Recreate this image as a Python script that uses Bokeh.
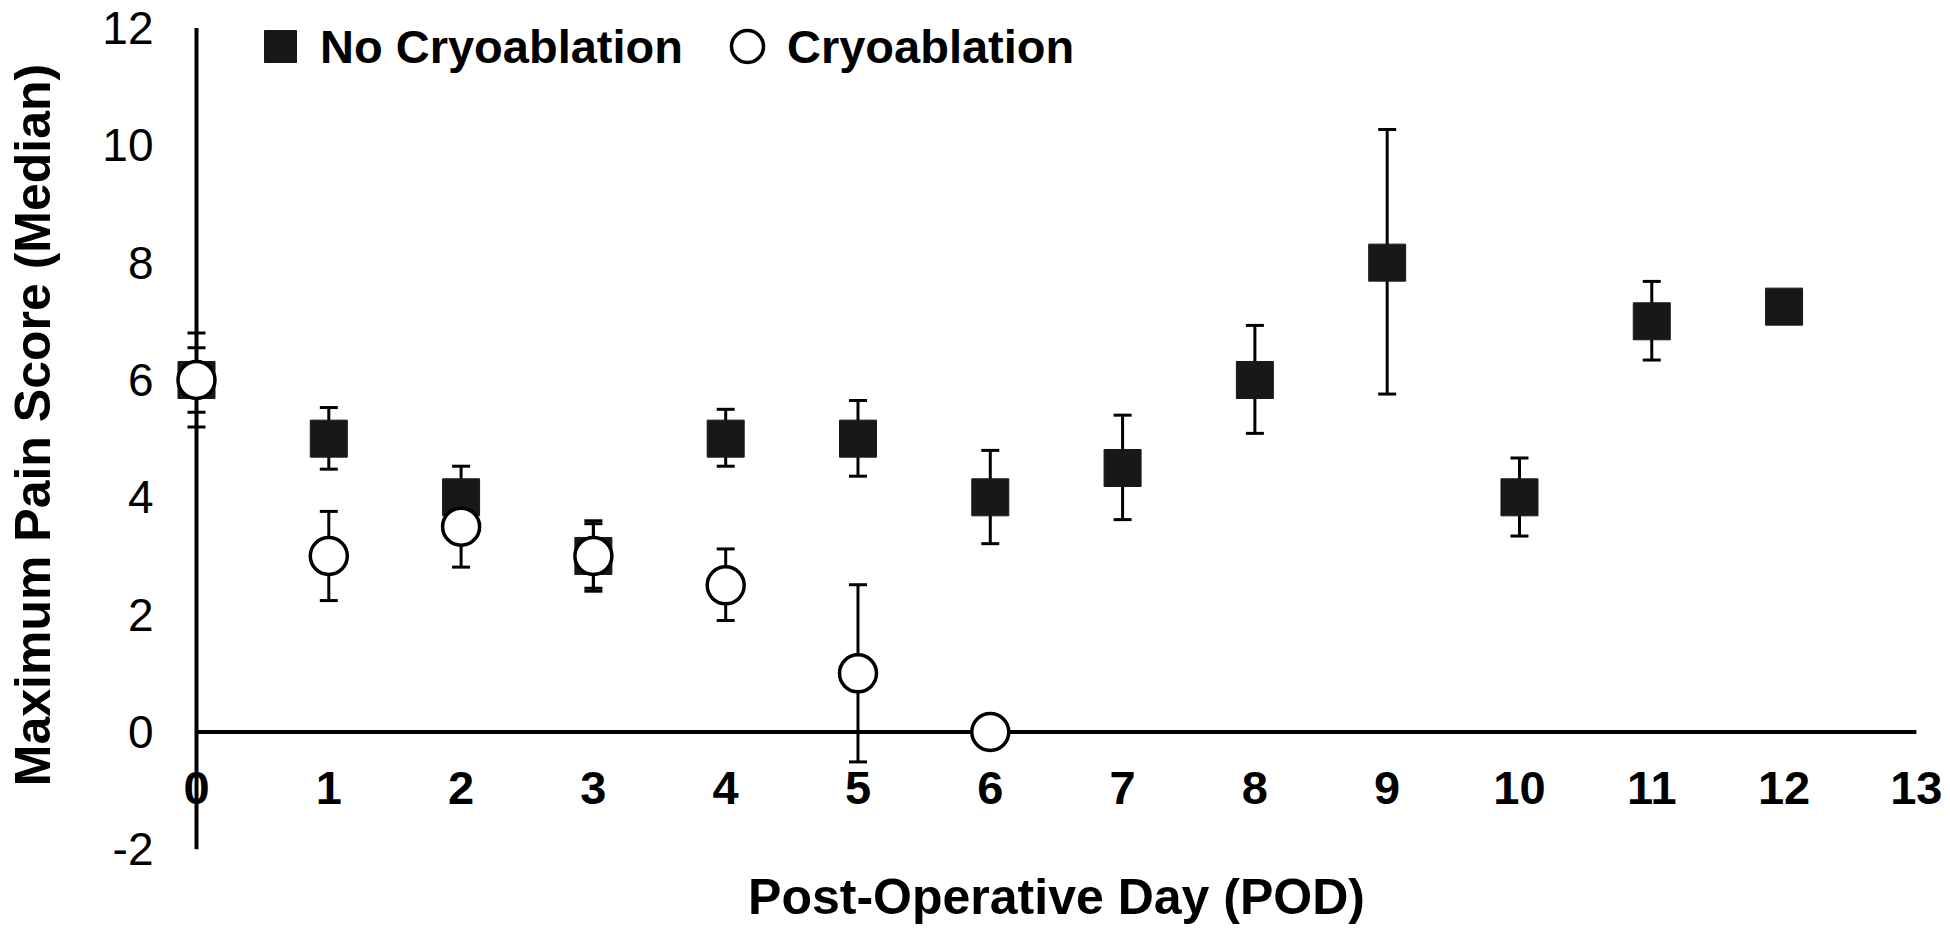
from bokeh.plotting import figure
from bokeh.models import (ColumnDataSource, Whisker, TeeHead, LinearAxis, FixedTicker,
                          Range1d, Legend, LegendItem)
from bokeh.embed import file_html
from bokeh.resources import INLINE

# ---- data ----
days_no = [0, 1, 2, 3, 4, 5, 6, 7, 8, 9, 10, 11, 12]
median_no = [6, 5, 4, 3, 5, 5, 4, 4.5, 6, 8, 4, 7, 7.25]
upper_no = [6.8, 5.53, 4.53, 3.6, 5.5, 5.65, 4.8, 5.4, 6.93, 10.27, 4.67, 7.68, None]
lower_no = [5.2, 4.48, 3.47, 2.4, 4.53, 4.36, 3.21, 3.62, 5.09, 5.76, 3.34, 6.34, None]

days_cryo = [0, 1, 2, 3, 4, 5, 6]
median_cryo = [6, 3, 3.5, 3, 2.5, 1, 0]
upper_cryo = [6.55, 3.76, 4.19, 3.55, 3.12, 2.51, None]
lower_cryo = [5.45, 2.24, 2.81, 2.45, 1.90, -0.51, None]

x_ticks = [0, 1, 2, 3, 4, 5, 6, 7, 8, 9, 10, 11, 12, 13]
x_tick_labels = ["0", "1", "2", "3", "4", "5", "6", "7", "8", "9", "10", "11", "12", "13"]
y_ticks = [-2, 0, 2, 4, 6, 8, 10, 12]
y_tick_labels = ["-2", "0", "2", "4", "6", "8", "10", "12"]

series_names = ["No Cryoablation", "Cryoablation"]
x_title = "Post-Operative Day (POD)"
y_title = "Maximum Pain Score (Median)"

FONT = "Liberation Sans"

# the plotting frame covers the whole canvas; the axes cross at the origin
p = figure(width=1950, height=941, title=None,
           x_range=Range1d(-1.4815, 13.258), y_range=Range1d(-3.571, 12.468),
           x_axis_location=None, y_axis_location=None,
           min_border_left=0, min_border_right=0, min_border_top=0, min_border_bottom=0,
           output_backend="svg", toolbar_location=None)
p.outline_line_color = None
p.background_fill_color = "white"
p.border_fill_color = "white"
p.grid.visible = False

# ---- axis lines through the origin (beneath the markers) ----
p.segment(x0=[x_ticks[0], 0], y0=[0, y_ticks[0]], x1=[x_ticks[-1], 0], y1=[0, y_ticks[-1]],
          line_color="black", line_width=4, level="underlay")

# ---- axes crossing at the origin (labels only) ----
xaxis = LinearAxis(fixed_location=0, bounds=(x_ticks[0], x_ticks[-1]),
                   ticker=FixedTicker(ticks=x_ticks),
                   major_label_overrides={t: l for t, l in zip(x_ticks, x_tick_labels)},
                   axis_label=x_title)
# upper bound extended a little so that the axis title sits where the reference has it
yaxis = LinearAxis(fixed_location=0, bounds=(y_ticks[0], y_ticks[-1] + 0.68),
                   ticker=FixedTicker(ticks=y_ticks),
                   major_label_overrides={t: l for t, l in zip(y_ticks, y_tick_labels)},
                   axis_label=y_title)
for ax in (xaxis, yaxis):
    ax.axis_line_color = None
    ax.major_tick_line_color = None
    ax.minor_tick_line_color = None
    ax.major_tick_out = 0
    ax.major_tick_in = 0
    ax.major_label_text_font = FONT
    ax.major_label_text_color = "black"
    ax.axis_label_text_font = FONT
    ax.axis_label_text_font_style = "bold"
    ax.axis_label_text_color = "black"

xaxis.major_label_text_font_style = "bold"
xaxis.major_label_text_font_size = "47px"
xaxis.major_label_standoff = 40
xaxis.axis_label_text_font_size = "50px"
xaxis.axis_label_standoff = 62

yaxis.major_label_text_font_size = "46px"
yaxis.major_label_standoff = 43
yaxis.axis_label_text_font_size = "50px"
yaxis.axis_label_standoff = 38

p.add_layout(xaxis, "below")
p.add_layout(yaxis, "left")

# ---- error bars (drawn beneath the markers) ----
def whisker_source(days, upper, lower):
    keep = [i for i, u in enumerate(upper) if u is not None]
    return ColumnDataSource(dict(x=[days[i] for i in keep],
                                 upper=[upper[i] for i in keep],
                                 lower=[lower[i] for i in keep]))

for d, u, l in ((days_no, upper_no, lower_no), (days_cryo, upper_cryo, lower_cryo)):
    w = Whisker(source=whisker_source(d, u, l), base="x", upper="upper", lower="lower",
                dimension="height", line_color="black", line_width=3,
                upper_head=TeeHead(size=18, line_width=3, line_color="black"),
                lower_head=TeeHead(size=18, line_width=3, line_color="black"),
                level="underlay")
    p.add_layout(w)

# ---- markers ----
src_no = ColumnDataSource(dict(x=days_no, y=median_no))
src_cryo = ColumnDataSource(dict(x=days_cryo, y=median_cryo))
r_no = p.scatter("x", "y", source=src_no, marker="square", size=37,
                 fill_color="#181818", line_color="#181818", line_width=1)
r_cryo = p.scatter("x", "y", source=src_cryo, marker="circle", size=37,
                   fill_color="white", line_color="black", line_width=3.5)

# ---- legend ----
legend = Legend(items=[LegendItem(label=series_names[0], renderers=[r_no]),
                       LegendItem(label=series_names[1], renderers=[r_cryo])],
                orientation="horizontal", location=(240, 855),
                glyph_width=80, glyph_height=80, label_standoff=0, spacing=24,
                padding=0, margin=0, border_line_color=None,
                background_fill_alpha=0,
                label_text_font=FONT, label_text_font_style="bold",
                label_text_font_size="47px", label_text_color="black")
p.add_layout(legend)

open("out.html", "w").write(file_html(p, INLINE))
